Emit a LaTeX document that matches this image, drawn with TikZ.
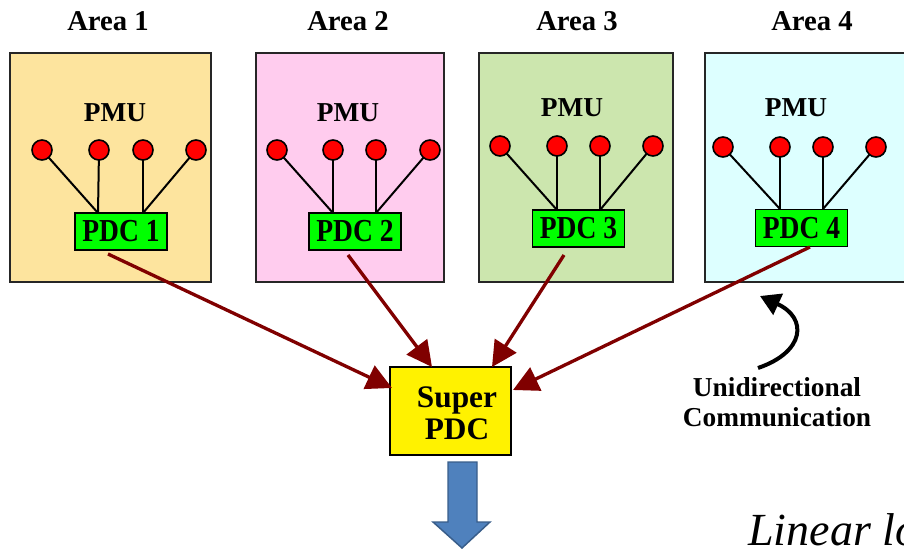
\documentclass[tikz,border=0pt]{standalone}
\usepackage{fontspec}
\setmainfont{Liberation Serif}
\newfontfamily\condfont[FakeStretch=0.86]{Liberation Serif}
\usetikzlibrary{arrows.meta}
\definecolor{areaA}{RGB}{253,228,158}
\definecolor{areaB}{RGB}{255,204,238}
\definecolor{areaC}{RGB}{204,230,174}
\definecolor{areaD}{RGB}{221,255,255}
\definecolor{pdcgreen}{RGB}{0,255,0}
\definecolor{flowred}{RGB}{128,0,0}
\definecolor{bluefill}{RGB}{79,129,189}
\definecolor{blueedge}{RGB}{56,93,138}
\tikzset{
  areabox/.style={draw=black!85, line width=1.1pt, minimum height=229*0.75pt, inner sep=0pt},
  arealabel/.style={font=\bfseries\fontsize{21.5}{24}\selectfont},
  pmulabel/.style={font=\bfseries\fontsize{20.5}{22}\selectfont},
  pmudot/.style={circle, draw=black, line width=1.2pt, fill=red, minimum size=20*0.75pt, inner sep=0pt},
  pdcbox/.style={draw=black, line width=1.2pt, fill=pdcgreen, minimum width=92*0.75pt, minimum height=37*0.75pt, inner sep=0pt, font=\condfont\bfseries\fontsize{24}{24}\selectfont},
  wire/.style={line width=1.5pt, black},
  flow/.style={line width=2.5pt, flowred, -{Triangle[length=19pt,width=19pt]}},
}
\begin{document}
\begin{tikzpicture}[x=0.75pt,y=-0.75pt]
\useasboundingbox (0,0) rectangle (904,549);
% area boxes
\node[areabox, fill=areaA, minimum width=201*0.75pt] (area1) at (110.5,167.5) {};
\node[areabox, fill=areaB, minimum width=188*0.75pt] (area2) at (350,167.5) {};
\node[areabox, fill=areaC, minimum width=194*0.75pt] (area3) at (576,167.5) {};
\node[areabox, fill=areaD, minimum width=201*0.75pt] (area4) at (805.5,167.5) {};
% titles
\node[arealabel] (t1) at (108,21) {Area 1};
\node[arealabel] (t2) at (348,21) {Area 2};
\node[arealabel] (t3) at (577,21) {Area 3};
\node[arealabel] (t4) at (812,21) {Area 4};
% PMU labels
\node[pmulabel] (p1) at (115,113) {PMU};
\node[pmulabel] (p2) at (348,113) {PMU};
\node[pmulabel] (p3) at (572,108) {PMU};
\node[pmulabel] (p4) at (796,108) {PMU};
% PDC boxes
\node[pdcbox] (pdc1) at (121,231.5) {PDC 1};
\node[pdcbox] (pdc2) at (355,231.5) {PDC 2};
\node[pdcbox] (pdc3) at (578.5,228.5) {PDC 3};
\node[pdcbox] (pdc4) at (801.5,228) {PDC 4};
% junction coordinates on PDC tops
\coordinate (j1a) at (98,213);  \coordinate (j1b) at (143,213);
\coordinate (j2a) at (333,213); \coordinate (j2b) at (376,213);
\coordinate (j3a) at (557,210); \coordinate (j3b) at (600,210);
\coordinate (j4a) at (780,209); \coordinate (j4b) at (823,209);
% dot positions
\foreach \a/\y/\xa/\xb/\xc/\xd in {1/150/42/99/143/196, 2/150/277/333/376/430, 3/146/500/557/600/653, 4/147/723/780/823/876}{
  \coordinate (d\a w) at (\xa,\y);
  \coordinate (d\a x) at (\xb,\y);
  \coordinate (d\a y) at (\xc,\y);
  \coordinate (d\a z) at (\xd,\y);
}
\foreach \a in {1,2,3,4}{
  \draw[wire] (d\a w) -- (j\a a);
  \draw[wire] (d\a x) -- (j\a a);
  \draw[wire] (d\a y) -- (j\a b);
  \draw[wire] (d\a z) -- (j\a b);
  \node[pmudot] (dot\a w) at (d\a w) {};
  \node[pmudot] (dot\a x) at (d\a x) {};
  \node[pmudot] (dot\a y) at (d\a y) {};
  \node[pmudot] (dot\a z) at (d\a z) {};
}
% Super PDC
\node[draw=black, line width=1.6pt, fill=yellow, minimum width=121*0.75pt, minimum height=88*0.75pt, inner sep=0pt] (super) at (450.5,411) {};
\node[font=\bfseries\fontsize{23.5}{26}\selectfont, align=center] (supertext) at (457,413) {Super\\[-2pt]PDC};
% flow arrows
\coordinate (s1) at (108,254);
\coordinate (s2) at (348,255);
\coordinate (s3) at (564,255);
\coordinate (s4) at (810,247);
\coordinate (e1) at (392,388);
\coordinate (e2) at (432,367);
\coordinate (e3) at (492,367);
\coordinate (e4) at (513,390);
\draw[flow] (s1) -- (e1);
\draw[flow] (s2) -- (e2);
\draw[flow] (s3) -- (e3);
\draw[flow] (s4) -- (e4);
% blue output arrow
\draw[blueedge, line width=1.1pt, fill=bluefill] (448,462) -- (477,462) -- (477,522) -- (490,522) -- (462,548) -- (433,522) -- (448,522) -- cycle;
% unidirectional note
\node[font=\bfseries\fontsize{20.5}{22.5}\selectfont, align=center] (note) at (777,402) {Unidirectional\\Communication};
\coordinate (cstart) at (758,368);
\coordinate (cend) at (760,296);
\draw[line width=3pt, black, -{Triangle[length=15pt,width=17pt]}] (cstart) .. controls (805,352) and (808,318) .. (cend);
% caption, cut off at the right edge as in the reference
\node[anchor=base west, inner sep=0pt, font=\itshape\fontsize{34.5}{36}\selectfont] (caption) at (748,545) {Linear lo};
\end{tikzpicture}
\end{document}
